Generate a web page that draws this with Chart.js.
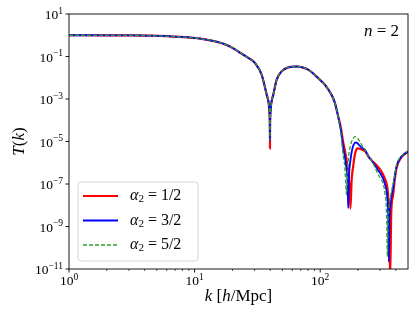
<!DOCTYPE html>
<html><head><meta charset="utf-8">
<script src="https://cdn.jsdelivr.net/npm/chart.js@4.4.0/dist/chart.umd.min.js"></script>
<style>html,body{margin:0;padding:0;background:#fff;overflow:hidden}</style>
</head><body>
<canvas id="c" width="413" height="312"></canvas>
<script>
// ---- data ----
const kValues = [1, 2, 3, 4.4, 7.7, 11.1, 16, 19.5, 23, 27, 30.3, 34.2, 37.5, 38.8, 39.4, 39.7, 39.8, 39.9, 40.2, 40.8, 42.3, 45,
  49.3, 55.7, 64.9, 72, 80.3, 90, 102.6, 109, 123, 131, 139, 146,
  152, 157, 162, 165, 167, 170, 174, 178, 183, 189, 192, 197, 205, 215, 227, 245, 256,
  289, 317, 327, 337, 343, 348, 352, 356, 360, 368, 380, 392, 405, 444, 470, 500];

const tRed = [1.0, 0.993, 0.984, 0.955, 0.832, 0.692, 0.447, 0.282, 0.151, 0.0832, 0.049, 0.0138, 1.58e-3, 6.9e-4, 2.63e-4, 6.9e-5, 4.79e-6, 6.3e-5, 2.5e-4, 6.31e-4, 1.58e-3, 8.13e-3,
  0.02, 0.0309, 0.0339, 0.0309, 0.024, 0.0141, 6.76e-3, 4.68e-3, 1.58e-3, 6.46e-4, 1.51e-4, 4.47e-5,
  1.0e-5, 3.98e-6, 1.41e-6, 6.31e-7, 3.55e-7, 1.26e-7, 7.08e-9, 1.58e-7, 6.76e-7, 2.51e-6, 3.55e-6, 4.79e-6, 4.57e-6, 4.17e-6, 3.55e-6, 1.78e-6, 1.32e-6,
  6.31e-7, 2.82e-7, 1.78e-7, 1.12e-7, 6.31e-8, 2.51e-8, 1.0e-8, 2.0e-9, 3.16e-12, 5.01e-9, 2.82e-8, 1.58e-7, 5.62e-7, 1.82e-6, 2.51e-6, 3.31e-6];

const tBlue = [1.0, 0.993, 0.984, 0.955, 0.832, 0.692, 0.447, 0.282, 0.151, 0.0832, 0.049, 0.0138, 1.58e-3, 6.9e-4, 2.63e-4, 6.9e-5, 1.17e-5, 6.3e-5, 2.5e-4, 6.31e-4, 1.58e-3, 8.13e-3,
  0.02, 0.0309, 0.0339, 0.0309, 0.024, 0.0141, 6.76e-3, 4.68e-3, 1.58e-3, 6.46e-4, 1.51e-4, 3.55e-5,
  5.62e-6, 2.0e-6, 5.01e-7, 1.58e-7, 7.41e-9, 3.16e-7, 1.26e-6, 3.16e-6, 6.31e-6, 8.71e-6, 9.12e-6, 8.51e-6, 6.61e-6, 5.01e-6, 4.07e-6, 1.78e-6, 1.32e-6,
  4.47e-7, 1.78e-7, 1.0e-7, 5.01e-8, 1.78e-8, 3.16e-9, 2.19e-11, 2.51e-9, 7.94e-9, 2.24e-8, 6.31e-8, 2.24e-7, 6.76e-7, 2.0e-6, 2.69e-6, 3.47e-6];

const tGreen = [1.0, 0.993, 0.984, 0.955, 0.832, 0.692, 0.447, 0.282, 0.151, 0.0832, 0.049, 0.0138, 1.58e-3, 6.9e-4, 2.63e-4, 6.9e-5, 1.17e-5, 6.3e-5, 2.5e-4, 6.31e-4, 1.58e-3, 8.13e-3,
  0.02, 0.0309, 0.0339, 0.0309, 0.024, 0.0141, 6.76e-3, 4.68e-3, 1.58e-3, 6.46e-4, 1.51e-4, 2.51e-5,
  2.51e-6, 6.31e-7, 3.16e-8, 3.98e-7, 1.26e-6, 3.16e-6, 6.31e-6, 1.0e-5, 1.38e-5, 1.70e-5, 1.70e-5, 1.51e-5, 1.07e-5, 6.76e-6, 4.27e-6, 1.78e-6, 1.32e-6,
  2.82e-7, 1.0e-7, 3.98e-8, 5.01e-9, 3.80e-11, 2.51e-9, 6.31e-9, 1.26e-8, 2.0e-8, 3.98e-8, 1.0e-7, 2.82e-7, 7.94e-7, 2.09e-6, 2.82e-6, 3.55e-6];

const seriesValues = ['1/2', '3/2', '5/2'];
const xTickValues = [1, 10, 100];
const xTickExponents = ['0', '1', '2'];
const xMinorValues = [2,3,4,5,6,7,8,9,20,30,40,50,60,70,80,90,200,300,400];
const yTickValues = [1e-11, 1e-9, 1e-7, 1e-5, 1e-3, 1e-1, 1e1];
const yTickExponents = ['\u221211', '\u22129', '\u22127', '\u22125', '\u22123', '\u22121', '1'];
const annotationText = ['n', ' = 2'];

const SERIF = "'Liberation Serif', 'DejaVu Serif', serif";
const styles = [
  {color: '#ff0000', width: 2.2, dash: []},
  {color: '#0000ff', width: 1.8, dash: []},
  {color: '#2ca02c', width: 1.3, dash: [4, 2]}
];
const seriesData = [tRed, tBlue, tGreen];

function drawMixed(ctx, segs, x, y, align) {
  let total = 0;
  const ws = segs.map(s => { ctx.font = (s.it ? 'italic ' : '') + s.size + 'px ' + SERIF; const w = ctx.measureText(s.t).width; total += w; return w; });
  let cur = align === 'center' ? x - total / 2 : (align === 'right' ? x - total : x);
  ctx.textAlign = 'left';
  segs.forEach((s, i) => { ctx.font = (s.it ? 'italic ' : '') + s.size + 'px ' + SERIF; ctx.fillText(s.t, cur, y + (s.dy || 0)); cur += ws[i]; });
}

const decor = {
  id: 'decor',
  afterDatasetsDraw(chart) {
    const ctx = chart.ctx, a = chart.chartArea, xs = chart.scales.x, ys = chart.scales.y;
    ctx.save();
    ctx.strokeStyle = '#000'; ctx.lineWidth = 0.9;
    ctx.strokeRect(a.left, a.top, a.right - a.left, a.bottom - a.top);
    ctx.beginPath();
    xTickValues.forEach(v => { const p = xs.getPixelForValue(v); ctx.moveTo(p, a.bottom); ctx.lineTo(p, a.bottom + 3.5); });
    yTickValues.forEach(v => { const p = ys.getPixelForValue(v); ctx.moveTo(a.left, p); ctx.lineTo(a.left - 3.5, p); });
    ctx.stroke();
    ctx.lineWidth = 0.7; ctx.beginPath();
    xMinorValues.forEach(v => { const p = xs.getPixelForValue(v); ctx.moveTo(p, a.bottom); ctx.lineTo(p, a.bottom + 2); });
    ctx.stroke();
    ctx.fillStyle = '#000'; ctx.textBaseline = 'alphabetic';
    xTickValues.forEach((v, i) => {
      const p = xs.getPixelForValue(v);
      drawMixed(ctx, [{t: '10', size: 13.5}, {t: xTickExponents[i], size: 9.5, dy: -5.5}], p, 285, 'center');
    });
    yTickValues.forEach((v, i) => {
      const p = ys.getPixelForValue(v);
      drawMixed(ctx, [{t: '10', size: 13.5}, {t: yTickExponents[i], size: 9.5, dy: -5.5}], a.left - 6, p + 5, 'right');
    });
    ctx.textBaseline = 'middle';
    drawMixed(ctx, [{t: 'k', it: true, size: 17}, {t: ' [', size: 17}, {t: 'h', it: true, size: 17}, {t: '/Mpc]', size: 17}], (a.left + a.right) / 2, 297, 'center');
    ctx.save(); ctx.translate(19.5, (a.top + a.bottom) / 2); ctx.rotate(-Math.PI / 2);
    drawMixed(ctx, [{t: 'T', it: true, size: 17}, {t: '(', size: 17}, {t: 'k', it: true, size: 17}, {t: ')', size: 17}], 0, 0, 'center');
    ctx.restore();
    drawMixed(ctx, [{t: annotationText[0], it: true, size: 17}, {t: annotationText[1], size: 17}], a.right - 9, 32, 'right');
    ctx.beginPath();
    if (ctx.roundRect) ctx.roundRect(78, 182, 120, 79, 3); else ctx.rect(78, 182, 120, 79);
    ctx.fillStyle = 'rgba(255,255,255,0.85)'; ctx.fill();
    ctx.strokeStyle = '#d4d4d4'; ctx.lineWidth = 1; ctx.stroke();
    const rows = [196, 220.5, 245];
    chart.data.datasets.forEach((ds, i) => {
      const y = rows[i];
      ctx.beginPath(); ctx.strokeStyle = ds.borderColor; ctx.lineWidth = ds.borderWidth; ctx.setLineDash(ds.borderDash || []);
      ctx.moveTo(83, y); ctx.lineTo(118, y); ctx.stroke(); ctx.setLineDash([]);
      ctx.fillStyle = '#000'; ctx.textBaseline = 'middle';
      drawMixed(ctx, [{t: '\u03b1', it: true, size: 16}, {t: '2', size: 11, dy: 3.5}, {t: ' = ' + seriesValues[i], size: 16}], 130, y, 'left');
    });
    ctx.restore();
  }
};

new Chart(document.getElementById('c'), {
  type: 'line',
  data: {
    datasets: seriesData.map((arr, i) => ({
      label: '\u03b1\u2082 = ' + seriesValues[i],
      data: kValues.map((k, j) => ({x: k, y: arr[j]})),
      borderColor: styles[i].color,
      borderWidth: styles[i].width,
      borderDash: styles[i].dash,
      pointRadius: 0,
      cubicInterpolationMode: 'monotone',
      fill: false,
      order: 3 - i
    }))
  },
  options: {
    responsive: false,
    animation: false,
    devicePixelRatio: 1,
    layout: {padding: {left: 0, right: 5, top: 14, bottom: 0}},
    plugins: {legend: {display: false}, tooltip: {enabled: false}},
    scales: {
      x: {type: 'logarithmic', min: 1, max: 500, ticks: {display: false}, grid: {display: false}, border: {display: false},
          afterFit(s) { s.height = 43; }},
      y: {type: 'logarithmic', min: 1e-11, max: 10, ticks: {display: false}, grid: {display: false}, border: {display: false},
          afterFit(s) { s.width = 69; }}
    }
  },
  plugins: [decor]
});
</script>
</body></html>
